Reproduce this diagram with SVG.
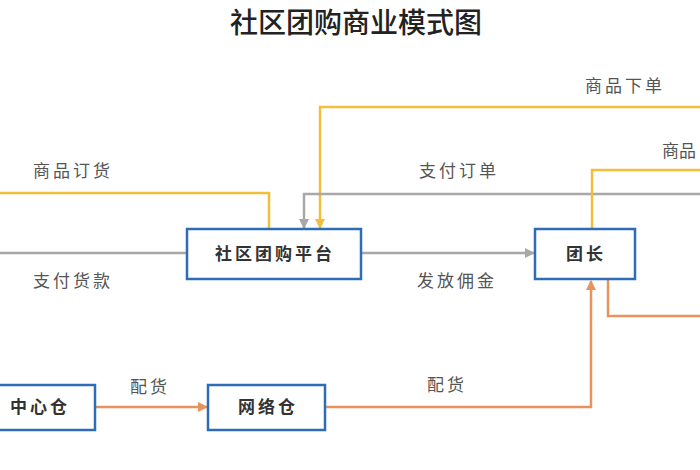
<svg xmlns="http://www.w3.org/2000/svg" width="700" height="470" viewBox="0 0 700 470">
<style>
.title{font-family:"Noto Sans CJK SC","Noto Sans",sans-serif;font-size:28px;fill:#222;text-anchor:middle;font-weight:500}
.lbl{font-family:"Noto Sans CJK SC","Noto Sans",sans-serif;font-size:17px;fill:#555;text-anchor:middle;letter-spacing:3px}
.ntext{font-family:"Noto Sans CJK SC","Noto Sans",sans-serif;font-size:17px;fill:#333;font-weight:bold;text-anchor:middle;letter-spacing:3px}
.box{fill:#fff;stroke:#2E6CB5;stroke-width:2.5}
.y{stroke:#F3BF3A;stroke-width:2.5;fill:none}
.g{stroke:#A8A8A8;stroke-width:2.5;fill:none}
.o{stroke:#E8925C;stroke-width:2.5;fill:none}
</style>
<defs>
<marker id="ay" viewBox="0 0 10 10" refX="9" refY="5" markerWidth="4" markerHeight="4" orient="auto"><path d="M0,0 L10,5 L0,10 z" fill="#F3BF3A"/></marker>
<marker id="ag" viewBox="0 0 10 10" refX="9" refY="5" markerWidth="4" markerHeight="4" orient="auto"><path d="M0,0 L10,5 L0,10 z" fill="#A8A8A8"/></marker>
<marker id="ao" viewBox="0 0 10 10" refX="9" refY="5" markerWidth="4" markerHeight="4" orient="auto"><path d="M0,0 L10,5 L0,10 z" fill="#E8925C"/></marker>
</defs>
<rect width="700" height="470" fill="#fff"/>
<text class="title" x="356" y="33">社区团购商业模式图</text>
<g id="connectors">
<polyline class="y" points="0,193 269,193 269,229"/>
<polyline class="y" points="700,107 320,107 320,228" marker-end="url(#ay)"/>
<polyline class="g" points="700,194 304,194 304,228" marker-end="url(#ag)"/>
<polyline class="y" points="700,170 592,170 592,228"/>
<line class="g" x1="0" y1="253" x2="187" y2="253"/>
<line class="g" x1="361" y1="253" x2="534" y2="253" marker-end="url(#ag)"/>
<polyline class="o" points="608,280 608,316 700,316"/>
<polyline class="o" points="325,407 591,407 591,281" marker-end="url(#ao)"/>
<line class="o" x1="95" y1="407" x2="207" y2="407" marker-end="url(#ao)"/>
<text class="lbl" x="73" y="177">商品订货</text>
<text class="lbl" x="73" y="287">支付货款</text>
<text class="lbl" x="625" y="92">商品下单</text>
<text class="lbl" x="662" y="157" style="text-anchor:start;letter-spacing:0">商品</text>
<text class="lbl" x="459" y="177">支付订单</text>
<text class="lbl" x="457" y="287">发放佣金</text>
<text class="lbl" x="150" y="393">配货</text>
<text class="lbl" x="447" y="391">配货</text>
</g>
<g id="platform"><rect class="box" x="187" y="229" width="174" height="50"/><text class="ntext" x="275" y="260">社区团购平台</text></g>
<g id="leader"><rect class="box" x="535" y="229" width="100" height="50"/><text class="ntext" x="586" y="260">团长</text></g>
<g id="central"><rect class="box" x="-10" y="385" width="105" height="45"/><text class="ntext" x="40" y="413">中心仓</text></g>
<g id="network"><rect class="box" x="208" y="385" width="117" height="45"/><text class="ntext" x="268" y="413">网络仓</text></g>
</svg>
